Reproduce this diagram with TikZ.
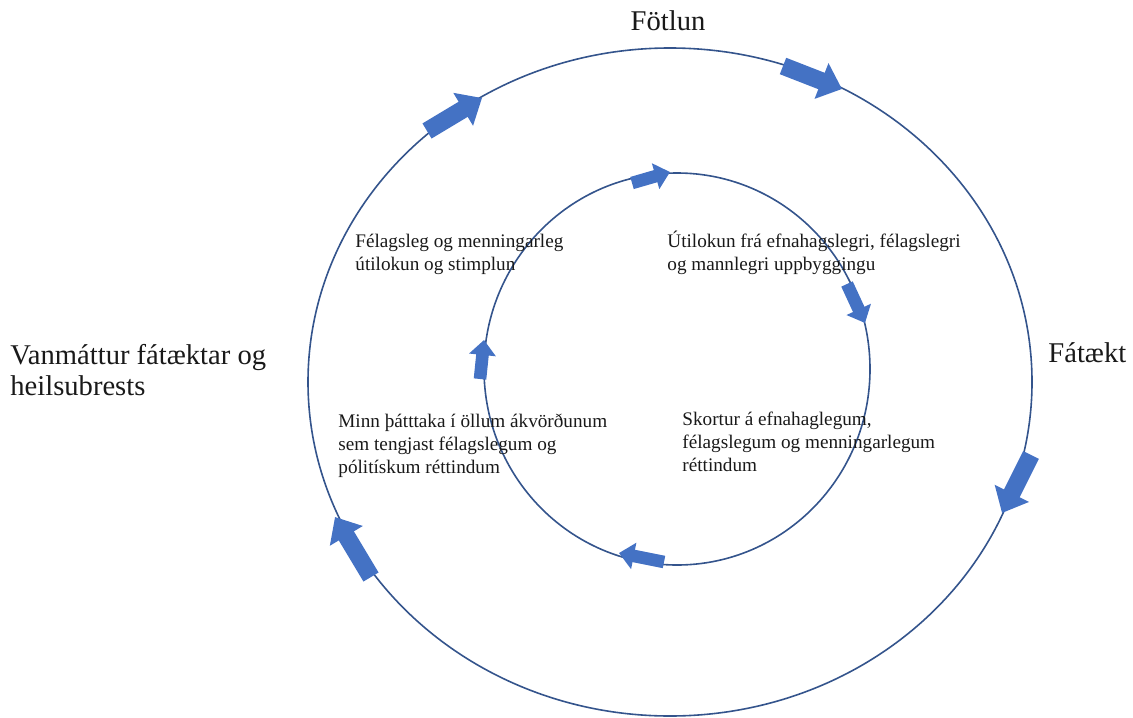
\documentclass[tikz,border=0pt]{standalone}
\usepackage{fontspec}
\setmainfont{Liberation Serif}
\usetikzlibrary{arrows.meta}
\definecolor{ringblue}{RGB}{52,84,140}
\definecolor{arrowblue}{RGB}{68,114,196}
\definecolor{txt}{RGB}{25,25,25}
\begin{document}
\begin{tikzpicture}[x=0.5pt,y=-0.5pt,
  ring/.style={draw=ringblue,line width=0.8pt},
  bigarrow/.style={arrowblue,line width=8.8pt,-{Triangle[width=18.5pt,length=11pt]}},
  smallarrow/.style={arrowblue,line width=6.3pt,-{Triangle[width=13pt,length=7.5pt]}},
  biglabel/.style={inner sep=0pt,anchor=base west,align=left,text=txt,font=\fontsize{14.3}{15.5}\selectfont},
  smalllabel/.style={inner sep=0pt,anchor=base west,align=left,text=txt,font=\fontsize{9.6}{11.4}\selectfont}]
\useasboundingbox (0,0) rectangle (1133,717);
% rings
\draw[ring] (670,382) ellipse [x radius=181pt, y radius=167pt];
\draw[ring] (677,369) ellipse [x radius=96.5pt, y radius=98pt];
% outer arrows
\coordinate (o1t) at (427,131); \coordinate (o1h) at (482,98);
\coordinate (o2t) at (783,66);  \coordinate (o2h) at (842,89);
\coordinate (o3t) at (1031,455); \coordinate (o3h) at (1002,513);
\coordinate (o4t) at (371,577); \coordinate (o4h) at (335,517);
\draw[bigarrow] (o1t) -- (o1h);
\draw[bigarrow] (o2t) -- (o2h);
\draw[bigarrow] (o3t) -- (o3h);
\draw[bigarrow] (o4t) -- (o4h);
% inner arrows
\coordinate (i1t) at (632,183); \coordinate (i1h) at (670,172);
\coordinate (i2t) at (847,284); \coordinate (i2h) at (865,323);
\coordinate (i3t) at (664,562); \coordinate (i3h) at (619,553);
\coordinate (i4t) at (480,379); \coordinate (i4h) at (484,340);
\draw[smallarrow] (i1t) -- (i1h);
\draw[smallarrow] (i2t) -- (i2h);
\draw[smallarrow] (i3t) -- (i3h);
\draw[smallarrow] (i4t) -- (i4h);
% labels (base anchor = baseline of the last line)
\node[biglabel,anchor=base] (top) at (668,31) {Fötlun};
\node[biglabel] (right) at (1048,362) {Fátækt};
\node[biglabel] (left) at (10,395) {Vanmáttur fátæktar og\\heilsubrests};
\node[smalllabel] (tl) at (355,270) {Félagsleg og menningarleg\\útilokun og stimplun};
\node[smalllabel] (tr) at (667,270) {Útilokun frá efnahagslegri, félagslegri\\og mannlegri uppbyggingu};
\node[smalllabel] (bl) at (338,473) {Minn þátttaka í öllum ákvörðunum\\sem tengjast félagslegum og\\pólitískum réttindum};
\node[smalllabel] (br) at (682,471) {Skortur á efnahaglegum,\\félagslegum og menningarlegum\\réttindum};
\end{tikzpicture}
\end{document}
